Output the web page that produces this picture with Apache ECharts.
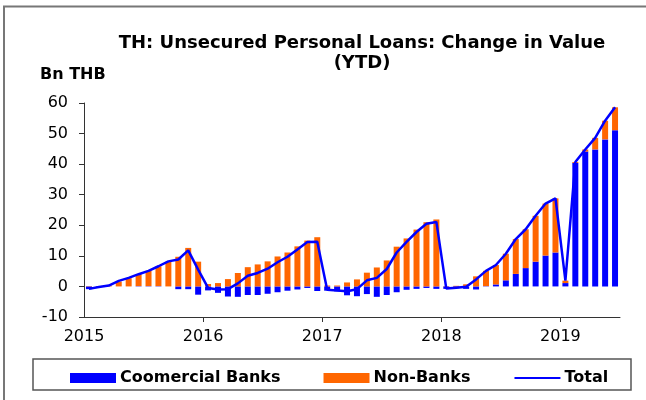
<!DOCTYPE html>
<html>
<head>
<meta charset="utf-8">
<script src="https://cdn.jsdelivr.net/npm/echarts@6/dist/echarts.min.js"></script>
<style>
  html, body { margin: 0; padding: 0; background: #fff; }
  #chart { width: 646px; height: 400px; }
</style>
</head>
<body>
<div id="chart"></div>
<script>
// monthly, Jan 2015 .. Jun 2019 (Bn THB, YTD change)
const months = [];
for (let y = 2015; y <= 2019; y++) {
  for (let m = 1; m <= 12; m++) {
    if (y === 2019 && m > 6) break;
    months.push(y + '-' + (m < 10 ? '0' + m : m));
  }
}
const yearTicks = [0, 12, 24, 36, 48];
const yearLabels = ['2015', '2016', '2017', '2018', '2019'];

const commercialBanks = [
  -0.9, -0.2, 0, 0, 0, 0.1, 0.1, 0.1, 0, -0.9, -0.9, -2.7,
  -1.3, -2.1, -3.3, -3.4, -2.8, -2.8, -2.4, -1.9, -1.4, -1.0, -0.5, -1.5,
  -1.4, -1.6, -2.9, -3.2, -2.5, -3.4, -2.8, -1.9, -1.1, -0.8, -0.5, -0.8,
  -0.8, -0.6, -0.8, -1.0, 0.1, 0.65, 2.0, 4.1, 6.0, 8.1, 10.1, 11.1,
  1.1, 40.4, 44.1, 44.8, 48.1, 51.1
];
const nonBanks = [
  0.1, 0, 0.3, 1.6, 2.7, 3.9, 5.0, 6.5, 8.1, 9.7, 12.6, 8.1,
  0.8, 1.1, 2.4, 4.4, 6.3, 7.2, 8.2, 9.8, 11.1, 13.1, 15.0, 16.1,
  0.3, 0.3, 1.3, 2.3, 4.5, 6.2, 8.5, 13.0, 15.7, 18.6, 21.0, 21.9,
  0.1, 0.2, 0.7, 3.3, 5.0, 6.35, 8.7, 11.4, 12.7, 15.0, 17.0, 17.7,
  0.8, 0.3, 0.7, 3.8, 6.1, 7.5
];
const total = [
  -0.8, -0.2, 0.3, 1.8, 2.8, 4.0, 5.1, 6.6, 8.2, 8.8, 11.8, 5.5,
  -0.5, -1.0, -0.9, 1.0, 3.5, 4.4, 5.8, 7.9, 9.7, 12.1, 14.5, 14.6,
  -1.1, -1.3, -1.6, -0.9, 2.0, 2.8, 5.7, 11.1, 14.6, 17.8, 20.5, 21.1,
  -0.7, -0.4, -0.1, 2.3, 5.1, 7.0, 10.7, 15.5, 18.7, 23.1, 27.1, 28.8,
  1.9, 40.7, 44.8, 48.6, 54.2, 58.6
];

const font = 'DejaVu Sans, Liberation Sans, sans-serif';
const chart = echarts.init(document.getElementById('chart'));

const option = {
  animation: false,
  title: {
    text: 'TH: Unsecured Personal Loans: Change in Value\n(YTD)',
    left: 357,
    top: 28,
    textAlign: 'center',
    textStyle: { fontFamily: font, fontSize: 18, fontWeight: 'bold', color: '#000', lineHeight: 20 }
  },
  graphic: [
    { type: 'text', left: 40, top: 67, style: { text: 'Bn THB', font: 'bold 16px ' + font, fill: '#000' } },
    { type: 'polyline', shape: { points: [[4, 400], [4, 6.5], [646, 6.5]] }, style: { stroke: '#777', lineWidth: 2, fill: null } },
    { type: 'rect', shape: { x: 33, y: 359, width: 598, height: 31 }, style: { stroke: '#555', lineWidth: 1.5, fill: null } }
  ],
  legend: {
    left: 65,
    top: 365,
    itemWidth: 46,
    itemHeight: 10,
    itemGap: 43,
    data: [
      { name: 'Coomercial Banks', icon: 'rect' },
      { name: 'Non-Banks', icon: 'rect' },
      { name: 'Total', itemStyle: { opacity: 0 } }
    ],
    textStyle: { fontFamily: font, fontSize: 16, fontWeight: 'bold', color: '#000', padding: [0, 0, 0, -1] }
  },
  grid: { left: 84, right: 26, top: 103, bottom: 83 },
  xAxis: [
    { type: 'category', data: months, show: false },
    {
      type: 'value', min: 0, max: 54, position: 'bottom',
      axisLine: { show: true, onZero: true, lineStyle: { color: '#333', width: 1 } },
      axisTick: { show: true, length: 5, customValues: [12, 24, 36, 48], lineStyle: { color: '#333' } },
      axisLabel: { show: false },
      splitLine: { show: false }
    },
    {
      type: 'value', min: 0, max: 54, position: 'bottom',
      axisLine: { show: false, onZero: false },
      axisTick: { show: false },
      splitLine: { show: false },
      axisLabel: {
        margin: 12,
        customValues: yearTicks,
        formatter: v => yearLabels[yearTicks.indexOf(v)] || '',
        fontFamily: font, fontSize: 16, color: '#000'
      }
    }
  ],
  yAxis: {
    type: 'value', min: -10, max: 60, interval: 10,
    axisLine: { show: true, lineStyle: { color: '#333' } },
    axisTick: { show: true, length: 5, lineStyle: { color: '#333' } },
    splitLine: { show: false },
    axisLabel: { margin: 16, fontFamily: font, fontSize: 16, color: '#000' }
  },
  series: [
    {
      name: 'Coomercial Banks', type: 'bar', stack: 'loans', barWidth: 6,
      itemStyle: { color: '#0000ff' }, data: commercialBanks
    },
    {
      name: 'Non-Banks', type: 'bar', stack: 'loans', barWidth: 6,
      itemStyle: { color: '#ff6600' }, data: nonBanks
    },
    {
      name: 'Total', type: 'line', symbol: 'none', z: 5,
      lineStyle: { color: '#0000ff', width: 2.5 }, itemStyle: { color: '#0000ff' }, data: total
    }
  ]
};
chart.setOption(option);
</script>
</body>
</html>
